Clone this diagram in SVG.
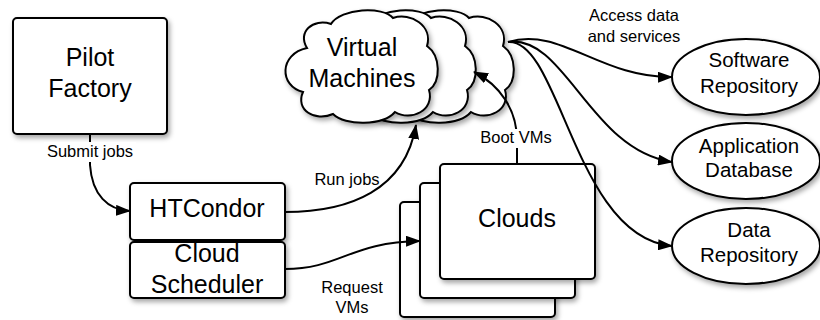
<svg xmlns="http://www.w3.org/2000/svg" width="820" height="320" viewBox="0 0 820 320">
<style>
.box{fill:#fff;stroke:#000;stroke-width:2;filter:url(#sh)}
.node{font-family:"Liberation Sans",Arial,sans-serif;font-size:25px;fill:#000;text-anchor:middle}
.ell{font-family:"Liberation Sans",Arial,sans-serif;font-size:20.5px;fill:#000;text-anchor:middle}
.lbl{font-family:"Liberation Sans",Arial,sans-serif;font-size:16.5px;fill:#000;text-anchor:middle}
.con{fill:none;stroke:#000;stroke-width:2}
.arr{marker-end:url(#ah)}
</style>
<defs>
<filter id="sh" x="-10%" y="-10%" width="130%" height="130%">
<feDropShadow dx="2" dy="3" stdDeviation="2.5" flood-color="#000" flood-opacity="0.35"/>
</filter>
<marker id="ah" markerUnits="userSpaceOnUse" markerWidth="15" markerHeight="11" refX="14" refY="5.5" orient="auto">
<path d="M0,0 L15,5.5 L0,11 z" fill="#000"/>
</marker>
<path id="cloud" d="M22,38 C12,22 28,8 46,14 C56,-2 98,-4 108,8 C126,2 148,16 142,36 C156,46 156,72 144,80 C150,100 126,112 110,102 C98,116 60,116 48,104 C30,112 10,100 18,82 C-6,76 -6,44 22,38 Z"/>
</defs>
<rect width="820" height="320" fill="#fff"/>

<g id="pilot-factory">
<rect class="box" x="13" y="18" width="154" height="116" rx="4"/>
<text class="node" x="90" y="66">Pilot</text>
<text class="node" x="90" y="97">Factory</text>
</g>

<g id="htcondor">
<rect class="box" x="130" y="183" width="155" height="57" rx="4"/>
<text class="node" x="207" y="217">HTCondor</text>
</g>

<g id="cloud-scheduler">
<rect class="box" x="130" y="242" width="155" height="56" rx="4"/>
<text class="node" x="207" y="262">Cloud</text>
<text class="node" x="207" y="293">Scheduler</text>
</g>

<g id="virtual-machines">
<use href="#cloud" class="box" transform="translate(361,10)"/>
<use href="#cloud" class="box" transform="translate(323,10)"/>
<use href="#cloud" class="box" transform="translate(285,10)"/>
<text class="node" x="362" y="56">Virtual</text>
<text class="node" x="362" y="87">Machines</text>
</g>

<g id="clouds">
<rect class="box" x="400" y="202" width="155" height="115" rx="4"/>
<rect class="box" x="420" y="183" width="155" height="115" rx="4"/>
<rect class="box" x="440" y="164" width="155" height="115" rx="4"/>
<text class="node" x="517" y="227">Clouds</text>
</g>

<g id="software-repository">
<ellipse class="box" cx="746" cy="77" rx="74" ry="38"/>
<text class="ell" x="749" y="67">Software</text>
<text class="ell" x="749" y="93">Repository</text>
</g>

<g id="application-database">
<ellipse class="box" cx="746" cy="161" rx="74" ry="38"/>
<text class="ell" x="749" y="153">Application</text>
<text class="ell" x="749" y="177">Database</text>
</g>

<g id="data-repository">
<ellipse class="box" cx="746" cy="246" rx="74" ry="38"/>
<text class="ell" x="749" y="237">Data</text>
<text class="ell" x="749" y="262">Repository</text>
</g>

<g id="connectors">
<path class="con arr" d="M90,134 L90,165 C92,195 108,210 130,211"/>
<path class="con arr" d="M285,212 C350,212 405,190 416,125"/>
<path class="con arr" d="M285,269 C340,269 350,242 420,241"/>
<path class="con arr" d="M517,164 L517,140 C517,110 500,85 474,72"/>
<path class="con arr" d="M508,42 C560,26 600,78 672,77"/>
<path class="con arr" d="M508,42 C565,34 590,150 672,162"/>
<path class="con arr" d="M508,42 C560,38 575,238 672,246"/>
</g>

<g id="labels">
<rect x="44" y="142" width="92" height="20" fill="#fff"/>
<text class="lbl" x="90" y="157">Submit jobs</text>
<text class="lbl" x="347" y="185">Run jobs</text>
<text class="lbl" x="352" y="293">Request</text>
<text class="lbl" x="352" y="313">VMs</text>
<rect x="478" y="129" width="76" height="19" fill="#fff"/>
<text class="lbl" x="516" y="143">Boot VMs</text>
<text class="lbl" x="634" y="21">Access data</text>
<text class="lbl" x="634" y="42">and services</text>
</g>
</svg>
